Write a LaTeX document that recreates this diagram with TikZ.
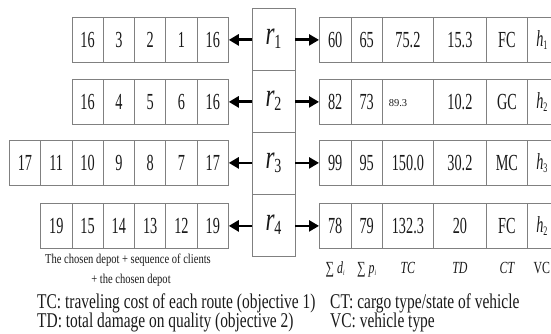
\documentclass[tikz,border=0pt]{standalone}
\usepackage{fontspec}
\setmainfont{Liberation Serif}
\newfontfamily\cellfont{Liberation Serif}[FakeStretch=0.62]
\newfontfamily\notefont{Liberation Serif}[FakeStretch=0.735]
\newfontfamily\capfont{Liberation Serif}[FakeStretch=0.78]
\newfontfamily\rfont{Liberation Serif}[FakeStretch=0.7]
\usetikzlibrary{arrows.meta}

\tikzset{
  cell/.style={draw=black!50, line width=0.8pt, minimum height=45pt, inner sep=0pt,
    anchor=north west, text=black!90, font=\cellfont\fontsize{23}{23}\selectfont},
  rbox/.style={draw=black!50, line width=0.8pt, minimum width=43pt, minimum height=62pt,
    inner sep=0pt, text=black!90},
  link/.style={line width=2.8pt, -{Triangle[length=10pt,width=11pt]}},
  colname/.style={anchor=base, inner sep=0pt, text=black!90,
    font=\rfont\fontsize{17}{17}\selectfont},
  caption/.style={anchor=base, inner sep=0pt, text=black!90,
    font=\capfont\fontsize{13.5}{13.5}\selectfont},
  legend/.style={anchor=base west, inner sep=0pt, text=black!90,
    font=\notefont\fontsize{21}{21}\selectfont},
}
% route label r_k
\newcommand{\routelbl}[1]{{\rfont\fontsize{33}{33}\selectfont\itshape r}\raisebox{-4pt}{\rfont\fontsize{20}{20}\selectfont #1}}
% vehicle label h_k
\newcommand{\vehlbl}[1]{{\cellfont\fontsize{23}{23}\selectfont\itshape h}\raisebox{-3pt}{\cellfont\fontsize{13}{13}\selectfont #1}}

\begin{document}
\begin{tikzpicture}[x=1pt, y=-1pt]
\path[use as bounding box] (0,0) rectangle (551,334);
\clip (0,0) rectangle (551,334);

% route boxes
\node[rbox] (r1) at (273.5,39)  {\routelbl{1}};
\node[rbox] (r2) at (273.5,101) {\routelbl{2}};
\node[rbox] (r3) at (273.5,163) {\routelbl{3}};
\node[rbox] (r4) at (273.5,225) {\routelbl{4}};

% depot + client sequences (right-aligned at x = 228)
\def\cw{31.3}
\foreach \v [count=\i] in {16,3,2,1,16}
  \node[cell, minimum width=\cw pt] (Lac\i) at ({228-\cw*(6-\i)},17) {\v};
\foreach \v [count=\i] in {16,4,5,6,16}
  \node[cell, minimum width=\cw pt] (Lbc\i) at ({228-\cw*(6-\i)},79) {\v};
\foreach \v [count=\i] in {17,11,10,9,8,7,17}
  \node[cell, minimum width=\cw pt] (Lcc\i) at ({228-\cw*(8-\i)},140) {\v};
\foreach \v [count=\i] in {19,15,14,13,12,19}
  \node[cell, minimum width=\cw pt] (Ldc\i) at ({228-\cw*(7-\i)},203) {\v};

% route attributes
\newcommand{\attrrow}[8]{%
  \node[cell, minimum width=31.5pt] (#1c1) at (319,#2)   {#3};
  \node[cell, minimum width=31.5pt] (#1c2) at (350.5,#2) {#4};
  \node[cell, minimum width=51pt]   (#1c3) at (382,#2)   {#5};
  \node[cell, minimum width=53pt]   (#1c4) at (433,#2)   {#6};
  \node[cell, minimum width=41pt]   (#1c5) at (486,#2)   {#7};
  \node[cell, minimum width=29pt]   (#1c6) at (527,#2)   {#8};
}
\attrrow{Ra}{17}{60}{65}{75.2}{15.3}{FC}{\vehlbl{1}}
\attrrow{Rb}{79}{82}{73}{}{10.2}{GC}{\vehlbl{2}}
\attrrow{Rc}{140}{99}{95}{150.0}{30.2}{MC}{\vehlbl{3}}
\attrrow{Rd}{203}{78}{79}{132.3}{20}{FC}{\vehlbl{2}}
\node[inner sep=0pt, text=black!90, font=\fontsize{10.5}{10.5}\selectfont] (tc2) at (398,103.5) {89.3};

% connectors
\foreach \k/\l/\r in {1/Lac5/Rac1, 2/Lbc5/Rbc1, 3/Lcc7/Rcc1, 4/Ldc6/Rdc1} {
  \draw[link] (r\k.west |- \l.east) -- (\l.east);
  \draw[link] (r\k.east |- \r.west) -- (\r.west);
}

% captions
\node[caption] (capa) at (128,263) {The chosen depot + sequence of clients};
\node[caption] (capb) at (131,283) {+ the chosen depot};

% column names
\coordinate (namerow) at (0,273);
\node[colname] (nd) at (Rdc1.south |- namerow) {\textup{∑}\,\textit{d}\raisebox{-2pt}{\fontsize{8}{8}\selectfont\itshape i}};
\node[colname] (np) at (Rdc2.south |- namerow) {\textup{∑}\,\textit{p}\raisebox{-2pt}{\fontsize{8}{8}\selectfont\itshape i}};
\node[colname] (ntc) at (Rdc3.south |- namerow) {\itshape TC};
\node[colname] (ntd) at (Rdc4.south |- namerow) {\itshape TD};
\node[colname] (nct) at (Rdc5.south |- namerow) {\itshape CT};
\node[colname] (nvc) at (Rdc6.south |- namerow) {VC};

% legend
\node[legend] (lga) at (37,308)  {TC: traveling cost of each route (objective 1)};
\node[legend] (lgb) at (37,327)  {TD: total damage on quality (objective 2)};
\node[legend] (lgc) at (330,308) {CT: cargo type/state of vehicle};
\node[legend] (lgd) at (330,327) {VC: vehicle type};
\end{tikzpicture}
\end{document}
